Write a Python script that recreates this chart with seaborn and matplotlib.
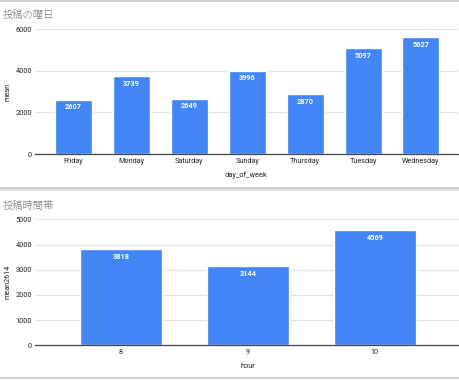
import matplotlib
matplotlib.use("Agg")
import matplotlib.pyplot as plt
import seaborn as sns
import pandas as pd
from matplotlib.lines import Line2D

days = ["Friday", "Monday", "Saturday", "Sunday", "Thursday", "Tuesday", "Wednesday"]
day_means = [2607, 3739, 2649, 3996, 2870, 5097, 5627]
hours = ["8", "9", "10"]
hour_means = [3818, 3144, 4569]
title_top = "投稿の曜日"
title_bottom = "投稿時間帯"

sns.set_theme(style="white")
plt.rcParams['font.family'] = ['Roboto', 'Noto Sans CJK JP', 'DejaVu Sans']

W, H = 460, 380
fig = plt.figure(figsize=(W / 100, H / 100), dpi=100)
fig.patch.set_facecolor("white")

BLUE = "#4285F4"
GRID = "#e3e3e3"
TXT = "#222222"

def px_axes(left, right, top, bottom):
    return fig.add_axes([left / W, (H - bottom) / H, (right - left) / W, (bottom - top) / H])

def style(ax, ymax, step, xlim, ylabel, xlabel, xlab_y, ylab_x):
    ax.set_ylim(0, ymax)
    ax.set_xlim(*xlim)
    ax.set_yticks(range(0, ymax + 1, step))
    ax.grid(axis="y", color=GRID, linewidth=0.9)
    ax.set_axisbelow(True)
    for s in ["top", "right", "left"]:
        ax.spines[s].set_visible(False)
    ax.spines["bottom"].set_color("#444444")
    ax.spines["bottom"].set_linewidth(0.9)
    ax.tick_params(axis="y", length=0, labelsize=5.3, colors=TXT, pad=2)
    ax.tick_params(axis="x", length=0, labelsize=5.2, colors=TXT, pad=3)
    ax.set_ylabel(ylabel, fontsize=5.2, color=TXT)
    ax.set_xlabel(xlabel, fontsize=5.3, color=TXT)
    ax.yaxis.set_label_coords(ylab_x, 0.5)
    ax.xaxis.set_label_coords(0.5, xlab_y)
    ax.xaxis.label.set_va("center")
    ax.yaxis.label.set_va("center")

def labels(ax, vals):
    for i, v in enumerate(vals):
        ax.annotate(str(v), (i, v), xytext=(0, -2.5), textcoords="offset points",
                    ha="center", va="top", color="white", fontsize=5.3, fontweight="bold")

# top chart
ax1 = px_axes(35, 458, 29.3, 154)
df1 = pd.DataFrame({"day_of_week": days, "mean": day_means})
sns.barplot(data=df1, x="day_of_week", y="mean", color=BLUE, width=0.64,
            saturation=1, ax=ax1, order=days)
style(ax1, 6000, 2000, (-0.665, 6.64), "mean", "day_of_week",
      -(175 - 154) / 124.7, -(35 - 8) / 423)
labels(ax1, day_means)
fig.text(3 / W, 1 - 15 / H, title_top, fontsize=7.4, color="#7a7a7a", va="center",
         ha="left", fontweight="light")

# bottom chart
ax2 = px_axes(35, 460, 219.3, 345.3)
df2 = pd.DataFrame({"hour": hours, "mean2614": hour_means})
sns.barplot(data=df2, x="hour", y="mean2614", color=BLUE, width=0.645,
            saturation=1, ax=ax2, order=hours)
style(ax2, 5000, 1000, (-0.677, 2.67), "mean2614", "hour",
      -(366 - 345.3) / 126, -(35 - 8) / 425)
labels(ax2, hour_means)
fig.text(3 / W, 1 - 206 / H, title_bottom, fontsize=7.4, color="#7a7a7a", va="center",
         ha="left", fontweight="light")

# frame lines
for y, c in [(1, "#c8c8c8"), (188, "#c8c8c8"), (190.5, "#d8d8d8"), (378, "#c8c8c8")]:
    fig.add_artist(Line2D([0, 1], [1 - y / H, 1 - y / H], color=c, linewidth=1.2,
                          transform=fig.transFigure))

fig.savefig("out.png", dpi=100, facecolor="white")
